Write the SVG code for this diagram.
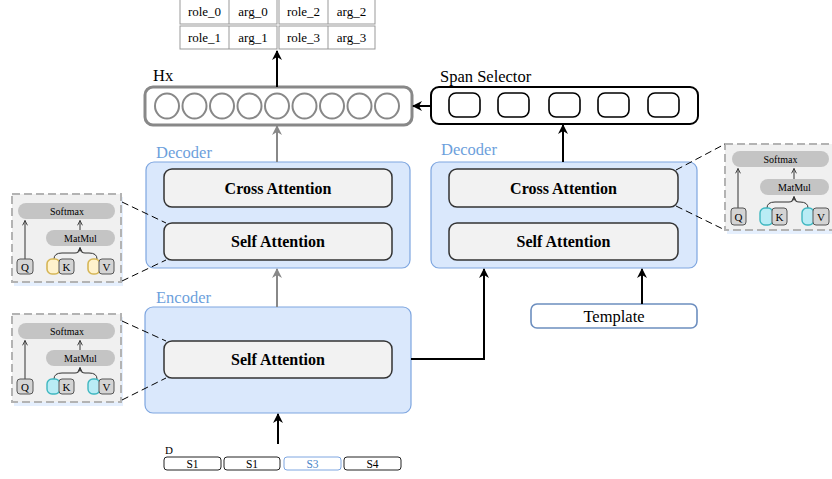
<svg xmlns="http://www.w3.org/2000/svg" width="832" height="479" viewBox="0 0 832 479" font-family="'Liberation Serif', 'Times New Roman', serif">
<defs>
<marker id="ab" viewBox="0 0 10 10" refX="9" refY="5" markerWidth="5" markerHeight="5" orient="auto-start-reverse"><path d="M0,0 L10,5 L0,10 L3,5 z" fill="#000"/></marker>
<marker id="ag" viewBox="0 0 10 10" refX="9" refY="5" markerWidth="5" markerHeight="5" orient="auto-start-reverse"><path d="M0,0 L10,5 L0,10 L3,5 z" fill="#888"/></marker>
<marker id="as" viewBox="0 0 10 10" refX="9" refY="5" markerWidth="6" markerHeight="6" orient="auto" markerUnits="userSpaceOnUse"><path d="M1,1 L9,5 L1,9" fill="none" stroke="#333" stroke-width="1.5"/></marker>
</defs>
<style>
text{font-family:"Liberation Serif","Times New Roman",serif;fill:#000}
.big{font-family:"Liberation Serif","Times New Roman",serif;font-size:16.5px}
.cell{fill:#fff;stroke:#999;stroke-width:1}
.ctext{font-size:13px;text-anchor:middle}
.blk{fill:#dae8fc;stroke:#7ea6e0;stroke-width:1.2}
.att{fill:#f2f2f2;stroke:#333;stroke-width:1.5}
.attt{font-size:16px;font-weight:bold;text-anchor:middle}
.lbl{font-family:"Liberation Serif","Times New Roman",serif;font-size:16.5px;fill:#6d9fdc}
.dash{fill:none;stroke:#000;stroke-width:1;stroke-dasharray:7,4}
.inset{fill:#f0f0f0;stroke:#b3b3b3;stroke-width:2;stroke-dasharray:8,4}
.shadow{fill:#dae8fc;opacity:0.7}
.pill{fill:#c4c4c4;stroke:none}
.pt{font-size:10px;text-anchor:middle}
.qk{fill:#d4d4d4;stroke:#555;stroke-width:1}
.qkt{font-size:11px;text-anchor:middle}
.yel{fill:#fff2cc;stroke:#d6b656;stroke-width:1.6}
.cy{fill:#b9ecf5;stroke:#3fb7c0;stroke-width:1.4}
.thin{fill:none;stroke:#333;stroke-width:1}
.seg{fill:#fff;stroke:#222;stroke-width:1}
.st{font-size:11.5px;text-anchor:middle}
.conb{fill:none;stroke:#000;stroke-width:2}
.cong{fill:none;stroke:#888;stroke-width:2}
</style>

<g id="table">
<rect class="cell" x="180" y="-1" width="97" height="25"/>
<line x1="229" y1="-1" x2="229" y2="24" stroke="#999"/>
<rect class="cell" x="279" y="-1" width="96" height="25"/>
<line x1="328" y1="-1" x2="328" y2="24" stroke="#999"/>
<rect class="cell" x="180" y="26" width="97" height="23"/>
<line x1="229" y1="26" x2="229" y2="49" stroke="#999"/>
<rect class="cell" x="279" y="26" width="96" height="23"/>
<line x1="328" y1="26" x2="328" y2="49" stroke="#999"/>
<text class="ctext" x="204.5" y="16">role_0</text>
<text class="ctext" x="253" y="16">arg_0</text>
<text class="ctext" x="303.5" y="16">role_2</text>
<text class="ctext" x="351.5" y="16">arg_2</text>
<text class="ctext" x="204.5" y="42">role_1</text>
<text class="ctext" x="253" y="42">arg_1</text>
<text class="ctext" x="303.5" y="42">role_3</text>
<text class="ctext" x="351.5" y="42">arg_3</text>
</g>

<g id="hx">
<text class="big" x="153" y="81">Hx</text>
<rect x="145" y="87" width="267" height="38" rx="8" fill="#fff" stroke="#888" stroke-width="3"/>
<g fill="#fff" stroke="#888" stroke-width="2">
<ellipse cx="167" cy="106" rx="12" ry="12.5"/>
<ellipse cx="194.5" cy="106" rx="12" ry="12.5"/>
<ellipse cx="222" cy="106" rx="12" ry="12.5"/>
<ellipse cx="249.5" cy="106" rx="12" ry="12.5"/>
<ellipse cx="277" cy="106" rx="12" ry="12.5"/>
<ellipse cx="304.5" cy="106" rx="12" ry="12.5"/>
<ellipse cx="332" cy="106" rx="12" ry="12.5"/>
<ellipse cx="359.5" cy="106" rx="12" ry="12.5"/>
<ellipse cx="387" cy="106" rx="12" ry="12.5"/>
</g>
</g>

<g id="span-selector">
<text class="big" x="440" y="82">Span Selector</text>
<rect x="431" y="87" width="267" height="37" rx="8" fill="#fff" stroke="#000" stroke-width="2"/>
<g fill="#fff" stroke="#000" stroke-width="1.6">
<rect x="449" y="93" width="31" height="24" rx="7"/>
<rect x="498" y="93" width="31" height="24" rx="7"/>
<rect x="549" y="93" width="31" height="24" rx="7"/>
<rect x="598" y="93" width="31" height="24" rx="7"/>
<rect x="648" y="93" width="31" height="24" rx="7"/>
</g>
</g>

<g id="decoder-left">
<text class="lbl" x="156" y="158">Decoder</text>
<rect class="blk" x="146" y="162" width="264" height="106" rx="8"/>
<rect class="att" x="164" y="169" width="228" height="38" rx="8"/>
<text class="attt" x="278" y="194">Cross Attention</text>
<rect class="att" x="164" y="223" width="228" height="37" rx="8"/>
<text class="attt" x="278" y="247">Self Attention</text>
</g>

<g id="decoder-right">
<text class="lbl" x="441" y="155">Decoder</text>
<rect class="blk" x="431" y="162" width="266" height="106" rx="8"/>
<rect class="att" x="449" y="169" width="229" height="38" rx="8"/>
<text class="attt" x="563.5" y="194">Cross Attention</text>
<rect class="att" x="449" y="223" width="229" height="37" rx="8"/>
<text class="attt" x="563.5" y="247">Self Attention</text>
</g>

<g id="encoder">
<text class="lbl" x="156" y="303">Encoder</text>
<rect class="blk" x="145" y="307" width="266" height="106" rx="8"/>
<rect class="att" x="164" y="341" width="228" height="37" rx="8"/>
<text class="attt" x="278" y="365">Self Attention</text>
</g>

<g id="template">
<rect x="531" y="304" width="166" height="24" rx="6" fill="#fff" stroke="#6c8ebf" stroke-width="1.6"/>
<text class="big" x="614" y="322" text-anchor="middle">Template</text>
</g>

<g id="input-d">
<text x="165" y="454" style="font-size:11px">D</text>
<rect class="seg" x="164" y="457" width="57" height="13" rx="3"/>
<text class="st" x="192.5" y="467.5">S1</text>
<rect class="seg" x="224" y="457" width="56" height="13" rx="3"/>
<text class="st" x="252" y="467.5">S1</text>
<rect x="284" y="457" width="57" height="13" rx="3" fill="#fff" stroke="#7ea6e0" stroke-width="1"/>
<text class="st" x="312.5" y="467.5" style="fill:#4a86c8">S3</text>
<rect class="seg" x="344" y="457" width="57" height="13" rx="3"/>
<text class="st" x="372.5" y="467.5">S4</text>
</g>

<g id="inset-decoder-left">
<rect class="shadow" x="14" y="197" width="109" height="89"/>
<rect class="inset" x="12" y="194" width="109" height="88"/>
<rect class="pill" x="18" y="203" width="97" height="16" rx="8"/>
<text class="pt" x="67" y="214.5">Softmax</text>
<rect class="pill" x="46" y="230" width="69" height="16" rx="8"/>
<text class="pt" x="80.5" y="241.5">MatMul</text>
<line class="thin" x1="80" y1="230" x2="80" y2="220.5" marker-end="url(#as)"/>
<line class="thin" x1="25" y1="259" x2="25" y2="220.5" marker-end="url(#as)"/>
<path class="thin" d="M54,259 Q54,253 62,253 L75,253 Q80,253 80,248"/>
<path class="thin" d="M97,259 Q97,253 89,253 L85,253 Q80,253 80,248"/>
<line class="thin" x1="80" y1="250" x2="80" y2="247.5" marker-end="url(#as)"/>
<rect class="qk" x="17" y="259" width="16" height="15" rx="3"/>
<text class="qkt" x="25" y="270.5">Q</text>
<rect class="yel" x="47" y="259" width="13" height="15" rx="5"/>
<rect class="qk" x="59" y="259" width="15" height="15" rx="3"/>
<text class="qkt" x="66.5" y="270.5">K</text>
<rect class="yel" x="88" y="259" width="12" height="15" rx="5"/>
<rect class="qk" x="99" y="259" width="15" height="15" rx="3"/>
<text class="qkt" x="106.5" y="270.5">V</text>
</g>

<g id="inset-encoder">
<rect class="shadow" x="14" y="317" width="109" height="89"/>
<rect class="inset" x="12" y="314" width="109" height="88"/>
<rect class="pill" x="18" y="323" width="97" height="16" rx="8"/>
<text class="pt" x="67" y="334.5">Softmax</text>
<rect class="pill" x="46" y="350" width="69" height="16" rx="8"/>
<text class="pt" x="80.5" y="361.5">MatMul</text>
<line class="thin" x1="80" y1="350" x2="80" y2="340.5" marker-end="url(#as)"/>
<line class="thin" x1="25" y1="379" x2="25" y2="340.5" marker-end="url(#as)"/>
<path class="thin" d="M54,379 Q54,373 62,373 L75,373 Q80,373 80,368"/>
<path class="thin" d="M97,379 Q97,373 89,373 L85,373 Q80,373 80,368"/>
<line class="thin" x1="80" y1="370" x2="80" y2="367.5" marker-end="url(#as)"/>
<rect class="qk" x="17" y="379" width="16" height="15" rx="3"/>
<text class="qkt" x="25" y="390.5">Q</text>
<rect class="cy" x="47" y="379" width="13" height="15" rx="5"/>
<rect class="qk" x="59" y="379" width="15" height="15" rx="3"/>
<text class="qkt" x="66.5" y="390.5">K</text>
<rect class="cy" x="88" y="379" width="12" height="15" rx="5"/>
<rect class="qk" x="99" y="379" width="15" height="15" rx="3"/>
<text class="qkt" x="106.5" y="390.5">V</text>
</g>

<g id="inset-decoder-right">
<rect class="shadow" x="727" y="147" width="107" height="87"/>
<rect class="inset" x="725" y="144" width="109" height="86"/>
<rect class="pill" x="732" y="151" width="97" height="16" rx="8"/>
<text class="pt" x="780.5" y="162.5">Softmax</text>
<rect class="pill" x="760" y="179" width="69" height="16" rx="8"/>
<text class="pt" x="794.5" y="190.5">MatMul</text>
<line class="thin" x1="794" y1="179" x2="794" y2="168.5" marker-end="url(#as)"/>
<line class="thin" x1="738" y1="208" x2="738" y2="168.5" marker-end="url(#as)"/>
<path class="thin" d="M767,208 Q767,202 775,202 L789,202 Q794,202 794,197"/>
<path class="thin" d="M808,208 Q808,202 800,202 L799,202 Q794,202 794,197"/>
<line class="thin" x1="794" y1="199" x2="794" y2="196.5" marker-end="url(#as)"/>
<rect class="qk" x="731" y="208" width="15" height="17" rx="3"/>
<text class="qkt" x="738.5" y="220.5">Q</text>
<rect class="cy" x="760" y="208" width="13" height="17" rx="5"/>
<rect class="qk" x="772" y="208" width="15" height="17" rx="3"/>
<text class="qkt" x="779.5" y="220.5">K</text>
<rect class="cy" x="802" y="208" width="12" height="17" rx="5"/>
<rect class="qk" x="813" y="208" width="16" height="17" rx="3"/>
<text class="qkt" x="821" y="220.5">V</text>
</g>

<g id="connectors">
<line class="conb" x1="277" y1="87" x2="277" y2="51" marker-end="url(#ab)"/>
<line class="conb" x1="431" y1="106" x2="413" y2="106" marker-end="url(#ab)"/>
<line class="conb" x1="563" y1="162" x2="563" y2="125" marker-end="url(#ab)"/>
<line class="cong" x1="277" y1="162" x2="277" y2="126" marker-end="url(#ag)"/>
<line class="cong" x1="277" y1="307" x2="277" y2="269" marker-end="url(#ag)"/>
<polyline class="conb" points="411,359 484,359 484,269" marker-end="url(#ab)"/>
<line class="conb" x1="642" y1="304" x2="642" y2="269" marker-end="url(#ab)"/>
<line class="conb" x1="278" y1="444" x2="278" y2="414" marker-end="url(#ab)"/>
<line class="dash" x1="122" y1="202" x2="166" y2="223"/>
<line class="dash" x1="122" y1="281" x2="166" y2="260"/>
<line class="dash" x1="122" y1="321" x2="166" y2="341"/>
<line class="dash" x1="122" y1="400" x2="166" y2="378"/>
<line class="dash" x1="676" y1="170" x2="725" y2="144"/>
<line class="dash" x1="676" y1="206" x2="725" y2="230"/>
</g>
</svg>
